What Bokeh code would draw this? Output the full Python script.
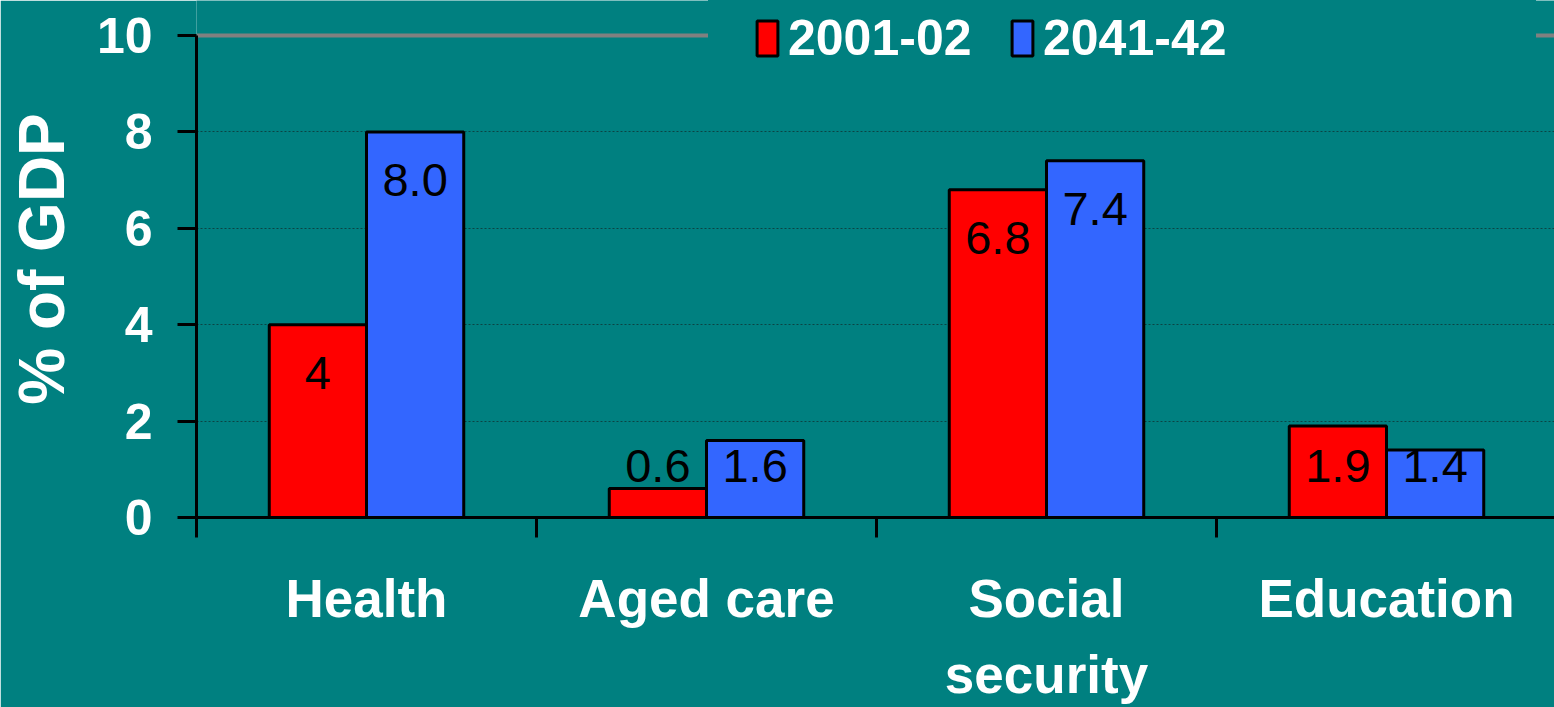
from bokeh.plotting import figure
from bokeh.models import ColumnDataSource, FixedTicker, Span, Legend, LegendItem, Range1d
from bokeh.embed import file_html
from bokeh.resources import INLINE
from bokeh.core.properties import value

# Government spending by function, % of GDP
categories = ["Health", "Aged care", "Social\nsecurity", "Education"]
series_names = ["2001-02", "2041-42"]
values_2001 = [4.0, 0.6, 6.8, 1.9]
values_2041 = [8.0, 1.6, 7.4, 1.4]
labels_2001 = ["4", "0.6", "6.8", "1.9"]
labels_2041 = ["8.0", "1.6", "7.4", "1.4"]
y_ticks = [0, 2, 4, 6, 8, 10]
grid_ticks = [2, 4, 6, 8]
y_max = 10

BG = "#008080"
RED = "#FF0000"
BLUE = "#3366FF"
FONT = "Liberation Sans"

W, H = 1554, 707
LEFT, TOP, BOTTOM = 196, 35, 190
CAT_PX = 340
x_end = (W - LEFT) / CAT_PX
# the frame reaches the top edge so the legend is not clipped;
# the value axis itself stops at y_max
y_end = y_max * (H - BOTTOM) / (H - BOTTOM - TOP)

BAR_W = 0.286
centers = [i + 0.5 for i in range(len(categories))]


def label_pos(vals):
    # value labels sit just inside the bar top, but never below a floor
    return [max(v - 1.0, 1.07) for v in vals]


src_a = ColumnDataSource(dict(x=[c - BAR_W / 2 for c in centers], top=values_2001,
                              label=labels_2001, ly=label_pos(values_2001)))
src_b = ColumnDataSource(dict(x=[c + BAR_W / 2 for c in centers], top=values_2041,
                              label=labels_2041, ly=label_pos(values_2041)))

p = figure(width=W, height=H, output_backend="svg", toolbar_location=None,
           x_range=Range1d(0, x_end), y_range=Range1d(0, y_end),
           min_border_left=LEFT, min_border_right=0,
           min_border_top=0, min_border_bottom=BOTTOM,
           background_fill_color=BG, border_fill_color=BG,
           outline_line_color=None)

# top border of the plot area
p.add_layout(Span(location=y_max, dimension="width", line_color="#808080",
                  line_width=4, level="underlay"))

r_a = p.vbar(x="x", top="top", width=BAR_W, bottom=0, source=src_a,
             fill_color=RED, line_color="black", line_width=3)
r_b = p.vbar(x="x", top="top", width=BAR_W, bottom=0, source=src_b,
             fill_color=BLUE, line_color="black", line_width=3)

for src in (src_a, src_b):
    p.text(x="x", y="ly", text="label", source=src, text_align="center",
           text_baseline="middle", text_font=value(FONT),
           text_font_size="47px", text_color="black")

# y axis
p.yaxis.ticker = FixedTicker(ticks=y_ticks)
p.yaxis.bounds = (0, y_max)
p.yaxis.axis_line_color = "black"
p.yaxis.axis_line_width = 3
p.yaxis.major_tick_line_color = "black"
p.yaxis.major_tick_line_width = 3
p.yaxis.major_tick_out = 19
p.yaxis.major_tick_in = 0
p.yaxis.minor_tick_out = 0
p.yaxis.minor_tick_in = 0
p.yaxis.major_label_standoff = 25
p.yaxis.major_label_text_font = FONT
p.yaxis.major_label_text_font_size = "50px"
p.yaxis.major_label_text_font_style = "bold"
p.yaxis.major_label_text_color = "white"
p.yaxis.axis_label = "% of GDP"
p.yaxis.axis_label_text_font = FONT
p.yaxis.axis_label_text_font_size = "64px"
p.yaxis.axis_label_text_font_style = "bold"
p.yaxis.axis_label_text_color = "white"
p.yaxis.axis_label_standoff = 16

# x axis: labels at category centres, tick marks at category boundaries
p.xaxis.ticker = FixedTicker(ticks=centers, minor_ticks=list(range(len(categories) + 1)))
p.xaxis.major_label_overrides = {c: name for c, name in zip(centers, categories)}
p.xaxis.axis_line_color = "black"
p.xaxis.axis_line_width = 3
p.xaxis.major_tick_out = 0
p.xaxis.major_tick_in = 0
p.xaxis.minor_tick_line_color = "black"
p.xaxis.minor_tick_line_width = 3
p.xaxis.minor_tick_out = 20
p.xaxis.minor_tick_in = 0
p.xaxis.major_label_standoff = 31
p.xaxis.major_label_text_font = FONT
p.xaxis.major_label_text_font_size = "53px"
p.xaxis.major_label_text_font_style = "bold"
p.xaxis.major_label_text_color = "white"
p.xaxis.major_label_text_line_height = 1.3

p.xgrid.grid_line_color = None
p.ygrid.ticker = FixedTicker(ticks=grid_ticks)
p.ygrid.grid_line_color = "#0b4444"
p.ygrid.grid_line_width = 1
p.ygrid.grid_line_dash = "2 2"


def make_legend(renderer, name, loc, pad, label_width):
    return Legend(items=[LegendItem(label=name, renderers=[renderer])],
                  location=loc, orientation="horizontal", padding=pad, margin=0,
                  spacing=0, background_fill_color=BG, background_fill_alpha=1.0,
                  border_line_color=BG, border_line_width=1,
                  glyph_width=26, glyph_height=44,
                  label_standoff=8, label_width=label_width,
                  label_text_font=FONT, label_text_font_size="50px",
                  label_text_font_style="bold", label_text_color="white")


p.add_layout(make_legend(r_a, series_names[0], (512, 404), 45, 20))
p.add_layout(make_legend(r_b, series_names[1], (782, 419), 30, 462))

open("out.html", "w").write(file_html(p, INLINE))
